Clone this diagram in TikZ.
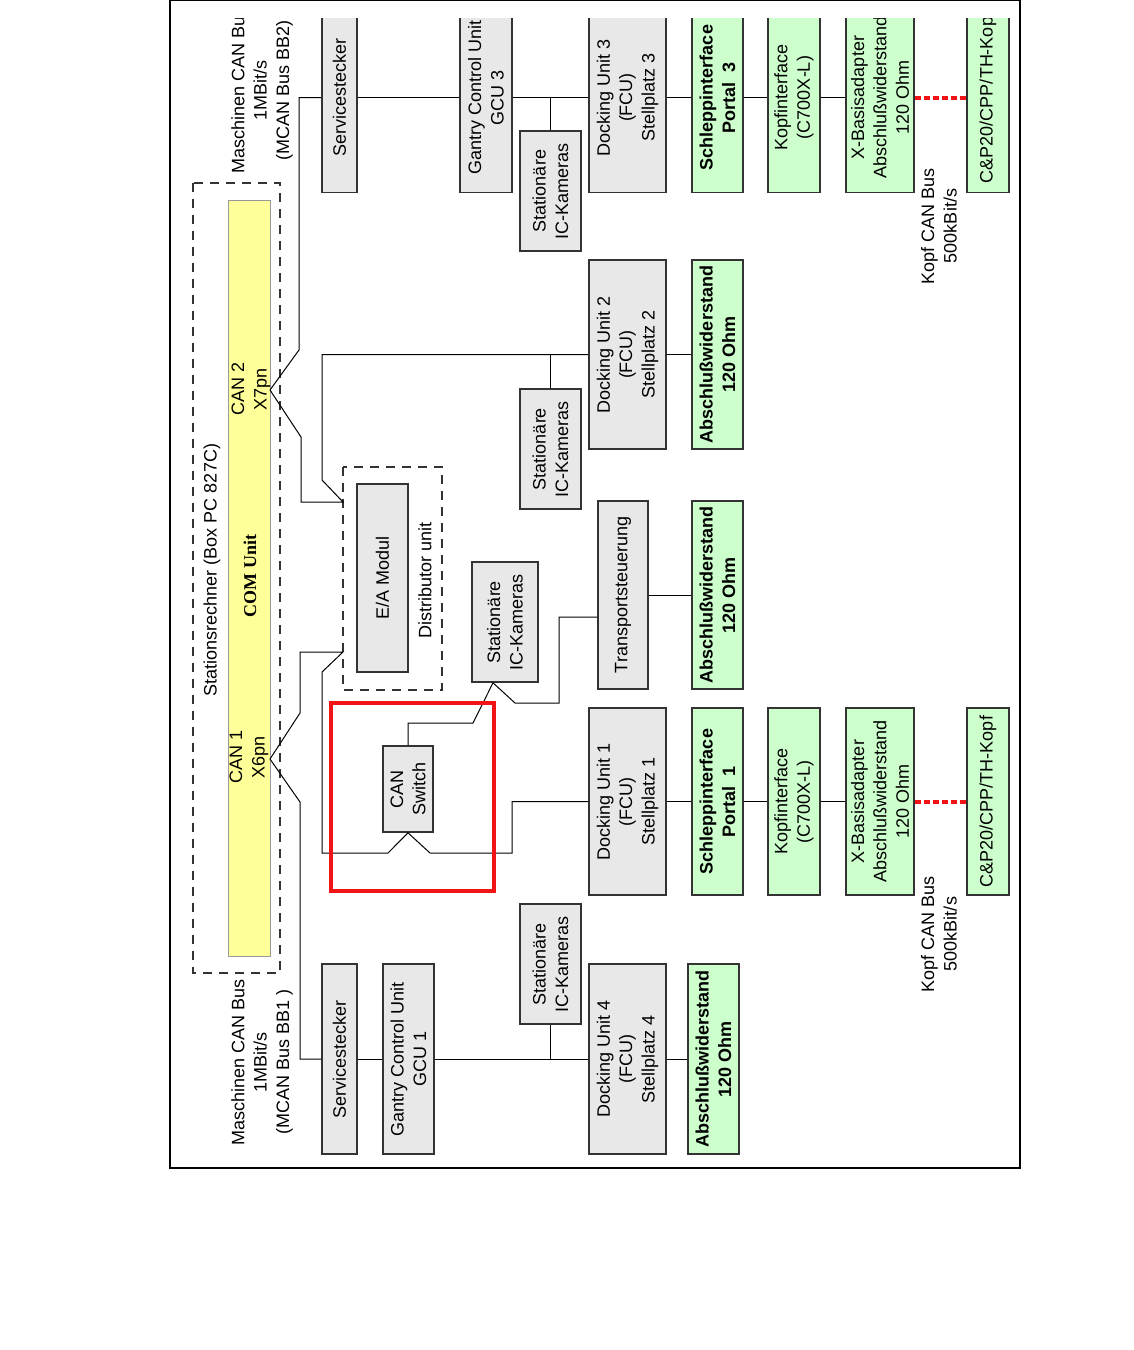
\documentclass[tikz,border=0pt]{standalone}
\usepackage{fontspec}
\setmainfont{Liberation Sans}
\newfontfamily\comfont{Liberation Serif}
\definecolor{cangelb}{RGB}{255,255,153}
\definecolor{cangruen}{RGB}{204,255,204}
\definecolor{cangrau}{RGB}{232,232,232}
\definecolor{canlinie}{RGB}{51,51,51}
\definecolor{canrot}{RGB}{240,20,20}

\begin{document}
\begin{tikzpicture}[x=0.5pt, y=-0.5pt,
  every node/.style={font=\fontsize{9}{11.2}\selectfont, align=center, rotate=90, inner sep=1pt},
  grau/.style={draw=canlinie, line width=0.8pt, fill=cangrau},
  gruen/.style={draw=canlinie, line width=0.8pt, fill=cangruen},
  fett/.style={font=\fontsize{9}{11.2}\selectfont\bfseries},
  bus/.style={line width=0.5pt},
  kopfbus/.style={canrot, line width=2pt, dash pattern=on 3pt off 1.5pt},
  rahmen/.style={draw=canlinie, line width=0.6pt, dash pattern=on 4.5pt off 3.5pt}]

\useasboundingbox (0,0) rectangle (1134,1350);

\begin{scope}
\clip (170,18) rectangle (1020,1168);

% Stationsrechner mit COM Unit
\node[rahmen, minimum width=395pt, minimum height=43.5pt] (pc) at (236.5,578) {};
\node[draw=canlinie!50, line width=0.4pt, fill=cangelb, minimum width=378pt, minimum height=21pt] (com) at (249,578) {};
\node (pctext) at (212,570) {Stationsrechner (Box PC 827C)};
\node[font=\comfont\bfseries\fontsize{9}{11}\selectfont] (comtext) at (250,576) {COM Unit};
\node (can2text) at (251,389) {CAN 2\\X7pn};
\node (can1text) at (249,757) {CAN 1\\X6pn};
\coordinate (can2) at (270,390);
\coordinate (can1) at (270,759);

% Beschriftung Maschinen CAN Bus
\node (bb2) at (262,90) {Maschinen CAN Bus\\1MBit/s\\(MCAN Bus BB2)};
\node (bb1) at (262,1062) {Maschinen CAN Bus\\1MBit/s\\(MCAN Bus BB1 )};

% Stellplatz 3 (oben)
\node[grau, minimum width=95pt, minimum height=17.5pt] (serv3) at (339.5,97.5) {Servicestecker};
\node[grau, minimum width=95pt, minimum height=26pt] (gcu3) at (486,97.5) {Gantry Control Unit\\GCU 3};
\node[grau, minimum width=60pt, minimum height=30.5pt] (cam3) at (550.5,191) {Stationäre\\IC-Kameras};
\node[grau, minimum width=95pt, minimum height=38.5pt] (dock3) at (627.5,97.5) {Docking Unit 3\\(FCU)\\Stellplatz 3};
\node[gruen, fett, minimum width=95pt, minimum height=25.5pt] (schl3) at (717.5,97.5) {Schleppinterface\\Portal~ 3};
\node[gruen, minimum width=95pt, minimum height=26pt] (kopf3) at (794,97.5) {Kopfinterface\\(C700X-L)};
\node[gruen, minimum width=95pt, minimum height=34pt] (xba3) at (880,97.5) {X-Basisadapter\\Abschlußwiderstand\\120 Ohm};
\node[gruen, minimum width=95pt, minimum height=21pt] (cp3) at (988,97.5) {C\&P20/CPP/TH-Kopf};
\node (kopftext3) at (939,226) {Kopf CAN Bus\\500kBit/s};

% Stellplatz 2
\node[grau, minimum width=60pt, minimum height=30.5pt] (cam2) at (550.5,449) {Stationäre\\IC-Kameras};
\node[grau, minimum width=94.5pt, minimum height=38.5pt] (dock2) at (627.5,354.5) {Docking Unit 2\\(FCU)\\Stellplatz 2};
\node[gruen, fett, minimum width=94.5pt, minimum height=25.5pt] (abs2) at (717.5,354.5) {Abschlußwiderstand\\120 Ohm};

% Transport
\node[grau, minimum width=60pt, minimum height=33pt] (camt) at (505,622) {Stationäre\\IC-Kameras};
\node[grau, minimum width=94pt, minimum height=25pt] (trans) at (623,595) {Transportsteuerung};
\node[gruen, fett, minimum width=94pt, minimum height=25.5pt] (abst) at (717.5,595) {Abschlußwiderstand\\120 Ohm};

% Distributor unit
\node[rahmen, minimum width=111.5pt, minimum height=49.5pt] (distr) at (392.5,578.5) {};
\node[grau, minimum width=94pt, minimum height=25.5pt] (eam) at (382.5,578) {E/A Modul};
\node (distrtext) at (425,580) {Distributor unit};
\coordinate (ein) at (343,502);
\coordinate (aus) at (343,652);

% CAN Switch
\node[grau, minimum width=43pt, minimum height=25pt] (switch) at (408,789) {CAN\\Switch};

% Stellplatz 1
\node[grau, minimum width=93.5pt, minimum height=38.5pt] (dock1) at (627.5,801.5) {Docking Unit 1\\(FCU)\\Stellplatz 1};
\node[gruen, fett, minimum width=93.5pt, minimum height=25.5pt] (schl1) at (717.5,801.5) {Schleppinterface\\Portal~ 1};
\node[gruen, minimum width=93.5pt, minimum height=26pt] (kopf1) at (794,801.5) {Kopfinterface\\(C700X-L)};
\node[gruen, minimum width=93.5pt, minimum height=34pt] (xba1) at (880,801.5) {X-Basisadapter\\Abschlußwiderstand\\120 Ohm};
\node[gruen, minimum width=93.5pt, minimum height=21pt] (cp1) at (988,801.5) {C\&P20/CPP/TH-Kopf};
\node (kopftext1) at (939,934) {Kopf CAN Bus\\500kBit/s};

% Stellplatz 4 (unten)
\node[grau, minimum width=95pt, minimum height=17.5pt] (serv1) at (339.5,1059) {Servicestecker};
\node[grau, minimum width=95pt, minimum height=25.5pt] (gcu1) at (408.5,1059) {Gantry Control Unit\\GCU 1};
\node[grau, minimum width=60pt, minimum height=30.5pt] (cam4) at (550.5,964) {Stationäre\\IC-Kameras};
\node[grau, minimum width=95pt, minimum height=38.5pt] (dock4) at (627.5,1059) {Docking Unit 4\\(FCU)\\Stellplatz 4};
\node[gruen, fett, minimum width=95pt, minimum height=25.5pt] (abs4) at (713.5,1059) {Abschlußwiderstand\\120 Ohm};

% Bus an CAN 2
\draw[bus] (can2) -- (299,350) |- (serv3);
\draw[bus] (serv3) -- (gcu3) (gcu3) -- (dock3) (dock3) -- (schl3) (schl3) -- (kopf3) (kopf3) -- (xba3);
\draw[bus] (cam3) -- (cam3 |- gcu3);
\draw[kopfbus] (xba3) -- (cp3);
\draw[bus] (can2) -- (301,437) |- (ein) -- (322,480) |- (dock2);
\draw[bus] (cam2) -- (cam2 |- dock2);
\draw[bus] (dock2) -- (abs2);

% Bus an CAN 1
\draw[bus] (can1) -- (300,713) |- (aus) -- (322,672) |- (388,853) -- (switch.west) -- (430,853) -- (512,853) |- (dock1);
\draw[bus] (switch.east) -- (408,723) -- (473,723) -- ([xshift=-6pt]camt.west) -- (515,703) -| (559,617) -- ([yshift=-11pt]trans.north);
\draw[bus] (trans) -- (abst);
\draw[bus] (dock1) -- (schl1) (schl1) -- (kopf1) (kopf1) -- (xba1);
\draw[kopfbus] (xba1) -- (cp1);
\draw[bus] (can1) -- (300,802) |- (serv1);
\draw[bus] (serv1) -- (gcu1) (gcu1) -- (dock4) (dock4) -- (abs4);
\draw[bus] (cam4) -- (cam4 |- dock4);

% Markierung
\node[draw=canrot, line width=2pt, minimum width=94pt, minimum height=81.5pt] (mark) at (412.5,797) {};
\end{scope}

% Rahmen
\draw[line width=0.6pt] (170,0) rectangle (1020,1168);

\end{tikzpicture}
\end{document}
